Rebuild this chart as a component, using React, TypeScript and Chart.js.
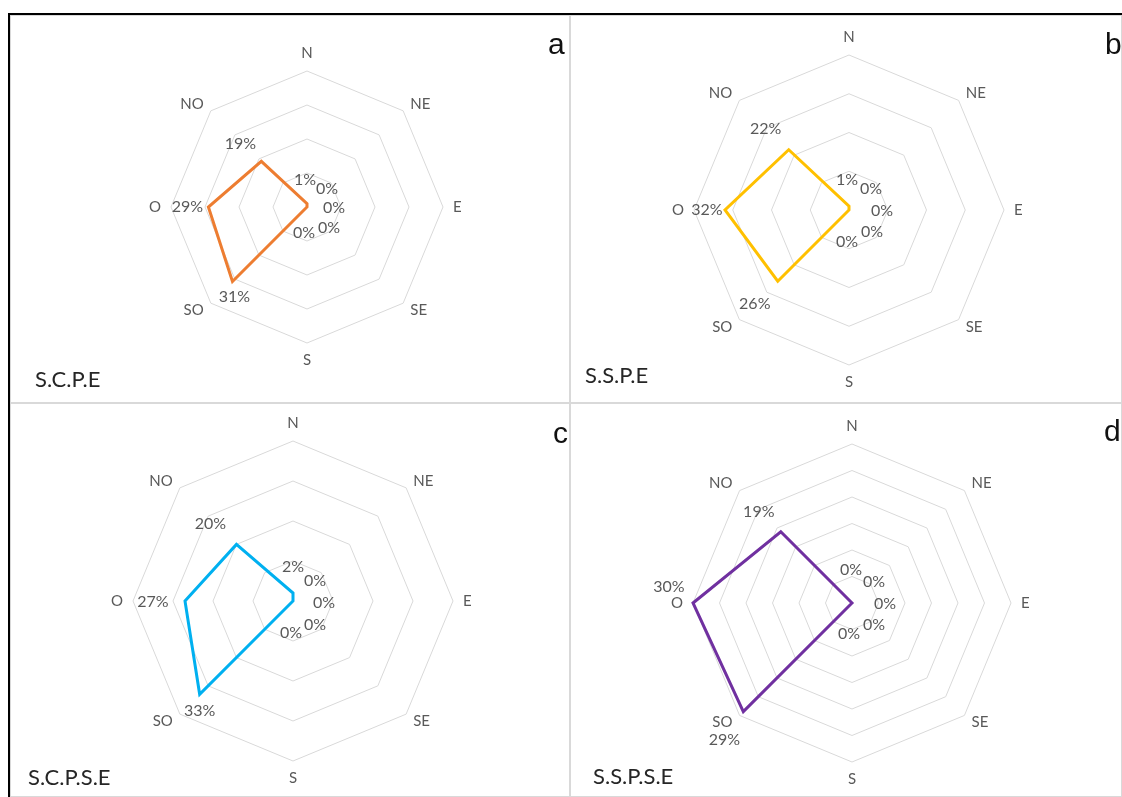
import React, { useEffect, useRef } from 'react';
import { Chart, registerables } from 'chart.js';

Chart.register(...registerables);

// ---------- data ----------
const directions = ['N', 'NE', 'E', 'SE', 'S', 'SO', 'O', 'NO'];
const scpeValues = [1, 0, 0, 0, 0, 31, 29, 19];
const sspeValues = [1, 0, 0, 0, 0, 26, 32, 22];
const scpseValues = [2, 0, 0, 0, 0, 33, 27, 20];
const sspseValues = [0, 0, 0, 0, 0, 29, 30, 19];
const scaleMaxima = [40, 40, 40, 30];
const scaleSteps = [10, 10, 10, 5];
const panelTitles = ['S.C.P.E', 'S.S.P.E', 'S.C.P.S.E', 'S.S.P.S.E'];
const panelLetters = ['a', 'b', 'c', 'd'];

// ---------- layout / style ----------
const lineColors = ['#ED7D31', '#FFC000', '#00B0F0', '#7030A0'];
const boxes = [
  { left: 10, top: 15, width: 560, height: 388 },
  { left: 570, top: 15, width: 552, height: 388 },
  { left: 10, top: 403, width: 560, height: 394 },
  { left: 570, top: 403, width: 552, height: 394 },
];
const centers = [
  { cx: 307, cy: 207, r: 136 },
  { cx: 849, cy: 210, r: 155 },
  { cx: 293, cy: 601, r: 160 },
  { cx: 852, cy: 603, r: 159 },
];
// data-label offsets from the plotted point (N, NE, E, SE, S, SO, O, NO)
const labelOffsets = [
  [[-2, -24], [20, -18], [27, 1], [22, 21], [-3, 26], [2, 15], [-21, 0], [-21, -17]],
  [[-2, -26], [22, -21], [33, 1], [23, 22], [-2, 32], [-23, 23], [-18, 0], [-23, -21]],
  [[0, -26], [22, -20], [31, 2], [22, 24], [-2, 32], [0, 17], [-32, 1], [-26, -21]],
  [[-1, -33], [22, -21], [33, 1], [22, 22], [-3, 31], [-19, 28], [-24, -16], [-22, -20]],
];
const titlePos = [
  { left: 35, base: 387 },
  { left: 585, base: 383 },
  { left: 28, base: 785 },
  { left: 593, base: 784 },
];
const letterPos = [
  { left: 548, base: 54 },
  { left: 1105, base: 54 },
  { left: 553, base: 443 },
  { left: 1104, base: 441 },
];

const seriesList = [scpeValues, sspeValues, scpseValues, sspseValues];

const radarTextPlugin = {
  id: 'radarText',
  afterDatasetsDraw(chart: any, _args: any, opts: any) {
    const scale = chart.scales.r;
    const ctx = chart.ctx;
    ctx.save();
    // axis (direction) labels
    ctx.font = `${opts.axisFont}px Lato`;
    ctx.fillStyle = '#595959';
    const labels: string[] = chart.data.labels;
    labels.forEach((lab, i) => {
      const p = scale.getPointPosition(i, scale.drawingArea + opts.axisPad);
      const dx = p.x - scale.xCenter;
      const dy = p.y - scale.yCenter;
      const d = Math.hypot(dx, dy) || 1;
      const ux = dx / d;
      const uy = dy / d;
      ctx.textAlign = Math.abs(ux) < 0.1 ? 'center' : ux > 0 ? 'left' : 'right';
      if (Math.abs(ux) < 0.1) {
        ctx.textBaseline = uy < 0 ? 'bottom' : 'top';
      } else {
        ctx.textBaseline = 'middle';
      }
      ctx.fillText(lab, p.x, p.y);
    });
    // data labels
    ctx.font = `${opts.dataFont}px Lato`;
    ctx.fillStyle = '#595959';
    ctx.textAlign = 'center';
    ctx.textBaseline = 'middle';
    const meta = chart.getDatasetMeta(0);
    const values: number[] = chart.data.datasets[0].data;
    meta.data.forEach((pt: any, i: number) => {
      const off = opts.offsets[i] || [0, 0];
      ctx.fillText(`${values[i]}%`, pt.x + off[0], pt.y + off[1]);
    });
    ctx.restore();
  },
};

function RadarPanel({ index }: { index: number }) {
  const ref = useRef<HTMLCanvasElement | null>(null);
  const box = boxes[index];
  const c = centers[index];
  useEffect(() => {
    if (!ref.current) return;
    const padding = {
      left: c.cx - c.r - box.left,
      right: box.left + box.width - (c.cx + c.r),
      top: c.cy - c.r - box.top,
      bottom: box.top + box.height - (c.cy + c.r),
    };
    const chart = new Chart(ref.current, {
      type: 'radar',
      data: {
        labels: directions,
        datasets: [
          {
            data: seriesList[index],
            borderColor: lineColors[index],
            backgroundColor: 'rgba(0,0,0,0)',
            borderWidth: 3,
            fill: false,
            pointRadius: 0,
            pointHoverRadius: 0,
            borderJoinStyle: 'miter',
            tension: 0,
          } as any,
        ],
      },
      options: {
        responsive: false,
        animation: false,
        events: [],
        devicePixelRatio: 1,
        layout: { padding },
        plugins: {
          legend: { display: false },
          tooltip: { enabled: false },
          radarText: {
            offsets: labelOffsets[index],
            axisFont: 15,
            dataFont: 16,
            axisPad: 10,
          },
        } as any,
        scales: {
          r: {
            min: 0,
            max: scaleMaxima[index],
            ticks: { stepSize: scaleSteps[index], display: false },
            grid: { color: '#d9d9d9', lineWidth: 1 },
            angleLines: { display: false },
            pointLabels: { display: false },
          },
        },
      },
      plugins: [radarTextPlugin as any],
    });
    return () => chart.destroy();
  }, [index]);

  return (
    <>
      <div
        style={{
          position: 'absolute',
          left: box.left,
          top: box.top,
          width: box.width,
          height: box.height,
          border: '1px solid #d9d9d9',
          boxSizing: 'border-box',
        }}
      />
      <canvas
        ref={ref}
        width={box.width}
        height={box.height}
        style={{ position: 'absolute', left: box.left, top: box.top, width: box.width, height: box.height }}
      />
      <div
        style={{
          position: 'absolute',
          left: titlePos[index].left,
          top: titlePos[index].base - 19.5,
          fontFamily: 'Lato, sans-serif',
          fontSize: 22,
          lineHeight: '22px',
          color: '#262626',
          whiteSpace: 'nowrap',
        }}
      >
        {panelTitles[index]}
      </div>
      <div
        style={{
          position: 'absolute',
          left: letterPos[index].left,
          top: letterPos[index].base - 25,
          fontFamily: '"Liberation Sans", Arial, sans-serif',
          fontSize: 30,
          lineHeight: '30px',
          color: '#111',
          whiteSpace: 'nowrap',
        }}
      >
        {panelLetters[index]}
      </div>
    </>
  );
}

export default function App() {
  return (
    <div
      style={{
        position: 'absolute',
        left: 0,
        top: 0,
        width: 1122,
        height: 797,
        overflow: 'hidden',
        background: '#fff',
      }}
    >
      <div
        style={{
          position: 'absolute',
          left: 8,
          top: 13,
          width: 1200,
          height: 900,
          border: '2px solid #000',
          boxSizing: 'border-box',
        }}
      />
      {[0, 1, 2, 3].map((i) => (
        <RadarPanel key={i} index={i} />
      ))}
    </div>
  );
}
